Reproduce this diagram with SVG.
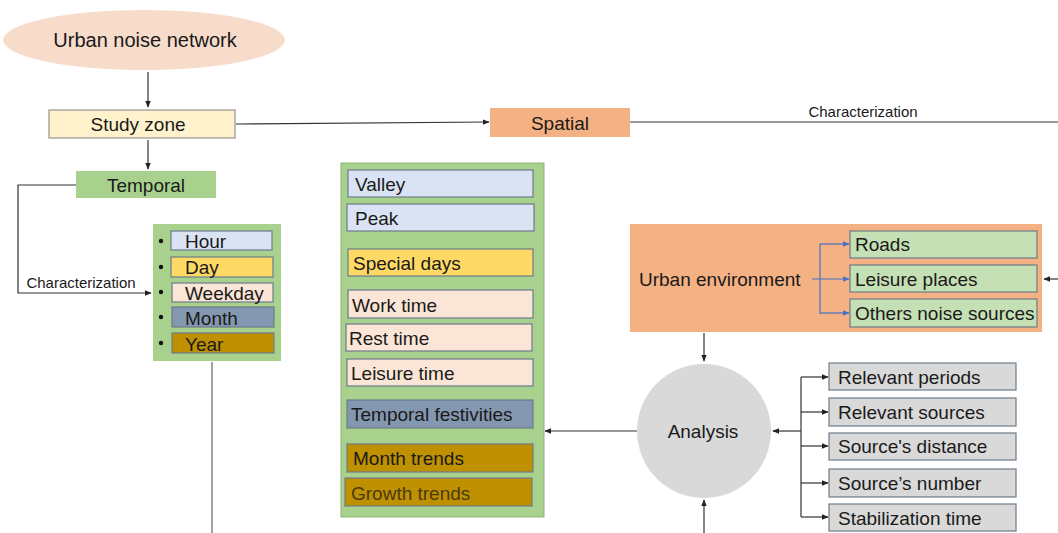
<svg xmlns="http://www.w3.org/2000/svg" width="1058" height="533" viewBox="0 0 1058 533">
<defs>
<marker id="ah" viewBox="0 0 10 10" refX="9" refY="5" markerWidth="7" markerHeight="7" markerUnits="userSpaceOnUse" orient="auto"><path d="M0,1 L10,5 L0,9 z" fill="#222"/></marker>
<marker id="ahb" viewBox="0 0 10 10" refX="9" refY="5" markerWidth="7" markerHeight="7" markerUnits="userSpaceOnUse" orient="auto"><path d="M0,1 L10,5 L0,9 z" fill="#4472C4"/></marker>
<style>
text{font-family:"Liberation Sans",Arial,sans-serif;fill:#1a1a1a;}
.t{font-size:19px;dominant-baseline:central;}
.c{text-anchor:middle;}
.s{font-size:15px;}
.box{stroke:#6d7b8a;stroke-width:1.2;}
.con{fill:none;stroke:#333;stroke-width:1.2;}
.blue{fill:none;stroke:#4472C4;stroke-width:1.2;}
.lb{fill:#DAE3F3}.yl{fill:#FFD966}.pk{fill:#FBE5D6}.bl{fill:#8497B0}.gd{fill:#BF9000}
.gr{fill:#A9D18E}.lg{fill:#C5E0B4}.or{fill:#F4B183}.gy{fill:#D9D9D9}
</style>
</defs>
<rect width="1058" height="533" fill="#fff"/>

<g id="connectors">
<path class="con" d="M148,72 V107" marker-end="url(#ah)"/>
<path class="con" d="M236,124 L489,122" marker-end="url(#ah)"/>
<path class="con" d="M630,122 H1058"/>
<text class="s" x="863" y="117" text-anchor="middle">Characterization</text>
<path class="con" d="M148,140 V169" marker-end="url(#ah)"/>
<path class="con" d="M76,185 H18 V293 H151" marker-end="url(#ah)"/>
<text class="s" x="81" y="288" text-anchor="middle">Characterization</text>
<path class="con" d="M212,362 V533" style="stroke:#666"/>
<path class="con" d="M637,431 H545" marker-end="url(#ah)"/>
<path class="con" d="M704,333 V361" marker-end="url(#ah)"/>
<path class="con" d="M704,533 V500" marker-end="url(#ah)"/>
<path class="con" d="M1058,279 H1044" marker-end="url(#ah)"/>
<path class="con" d="M801,431 H773" marker-end="url(#ah)"/>
<path class="con" d="M801,377 V517"/>
<path class="con" d="M801,377 H828" marker-end="url(#ah)"/>
<path class="con" d="M801,412 H828" marker-end="url(#ah)"/>
<path class="con" d="M801,446 H828" marker-end="url(#ah)"/>
<path class="con" d="M801,483 H828" marker-end="url(#ah)"/>
<path class="con" d="M801,517 H828" marker-end="url(#ah)"/>
</g>

<g id="urban-noise-network">
<ellipse cx="144" cy="40" rx="141" ry="30" fill="#F8DCCB"/>
<text class="t c" x="145" y="40" font-size="20" style="font-size:20px">Urban noise network</text>
</g>

<g id="study-zone">
<rect x="49" y="110" width="186" height="28" fill="#FFF2CC" stroke="#7f7f7f" stroke-width="1"/>
<text class="t c" x="138" y="124">Study zone</text>
</g>

<g id="spatial">
<rect x="490" y="108" width="140" height="29" class="or"/>
<text class="t c" x="560" y="123">Spatial</text>
</g>

<g id="temporal">
<rect x="76" y="171" width="140" height="27" class="gr"/>
<text class="t c" x="146" y="185">Temporal</text>
</g>

<g id="temporal-units">
<rect x="153" y="224" width="128" height="137" class="gr"/>
<circle cx="161" cy="241" r="2.2" fill="#111"/>
<circle cx="161" cy="267" r="2.2" fill="#111"/>
<circle cx="161" cy="292" r="2.2" fill="#111"/>
<circle cx="161" cy="317" r="2.2" fill="#111"/>
<circle cx="161" cy="343" r="2.2" fill="#111"/>
<rect x="171" y="231" width="101" height="19" class="box lb"/>
<text class="t" x="185" y="241">Hour</text>
<rect x="171" y="257" width="102" height="20" class="box yl"/>
<text class="t" x="185" y="267">Day</text>
<rect x="172" y="283" width="101" height="19" class="box pk"/>
<text class="t" x="185" y="293">Weekday</text>
<rect x="172" y="307" width="102" height="20" class="box bl"/>
<text class="t" x="185" y="318">Month</text>
<rect x="172" y="333" width="102" height="20" class="box gd"/>
<text class="t" x="185" y="344">Year</text>
</g>

<g id="temporal-results">
<rect x="341" y="163" width="203" height="354" class="gr" stroke="#8fb377" stroke-width="1"/>
<rect x="348" y="170" width="185" height="27" class="box lb"/>
<text class="t" x="355" y="184">Valley</text>
<rect x="347" y="204" width="187" height="27" class="box lb"/>
<text class="t" x="355" y="218">Peak</text>
<rect x="348" y="249" width="185" height="27" class="box yl"/>
<text class="t" x="353" y="263">Special days</text>
<rect x="348" y="290" width="185" height="28" class="box pk"/>
<text class="t" x="352" y="305">Work time</text>
<rect x="346" y="324" width="186" height="27" class="box pk"/>
<text class="t" x="349" y="338">Rest time</text>
<rect x="347" y="359" width="186" height="27" class="box pk"/>
<text class="t" x="351" y="373">Leisure time</text>
<rect x="347" y="400" width="186" height="28" class="box bl"/>
<text class="t" x="351" y="414">Temporal festivities</text>
<rect x="347" y="444" width="186" height="28" class="box gd"/>
<text class="t" x="353" y="458">Month trends</text>
<rect x="345" y="478" width="187" height="28" class="box gd"/>
<text class="t" x="351" y="493" style="fill:#4a3a10">Growth trends</text>
</g>

<g id="urban-environment">
<rect x="630" y="224" width="412" height="108" class="or"/>
<text class="t" x="639" y="279">Urban environment</text>
<path class="blue" d="M812,279 H849" marker-end="url(#ahb)"/>
<path class="blue" d="M820,244 V314"/>
<path class="blue" d="M820,244 H849" marker-end="url(#ahb)"/>
<path class="blue" d="M820,313 H849" marker-end="url(#ahb)"/>
<rect x="850" y="231" width="187" height="27" class="box lg"/>
<text class="t" x="855" y="244">Roads</text>
<rect x="850" y="265" width="187" height="27" class="box lg"/>
<text class="t" x="855" y="279">Leisure places</text>
<rect x="850" y="299" width="187" height="28" class="box lg"/>
<text class="t" x="855" y="313">Others noise sources</text>
</g>

<g id="analysis">
<circle cx="704" cy="431" r="67" class="gy"/>
<text class="t c" x="703" y="431">Analysis</text>
</g>

<g id="analysis-outputs">
<rect x="829" y="363" width="187" height="27" class="box gy"/>
<text class="t" x="838" y="377">Relevant periods</text>
<rect x="829" y="398" width="187" height="28" class="box gy"/>
<text class="t" x="838" y="412">Relevant sources</text>
<rect x="829" y="433" width="187" height="27" class="box gy"/>
<text class="t" x="838" y="446">Source's distance</text>
<rect x="829" y="469" width="187" height="28" class="box gy"/>
<text class="t" x="838" y="483">Source’s number</text>
<rect x="829" y="504" width="187" height="27" class="box gy"/>
<text class="t" x="838" y="518">Stabilization time</text>
</g>
</svg>
